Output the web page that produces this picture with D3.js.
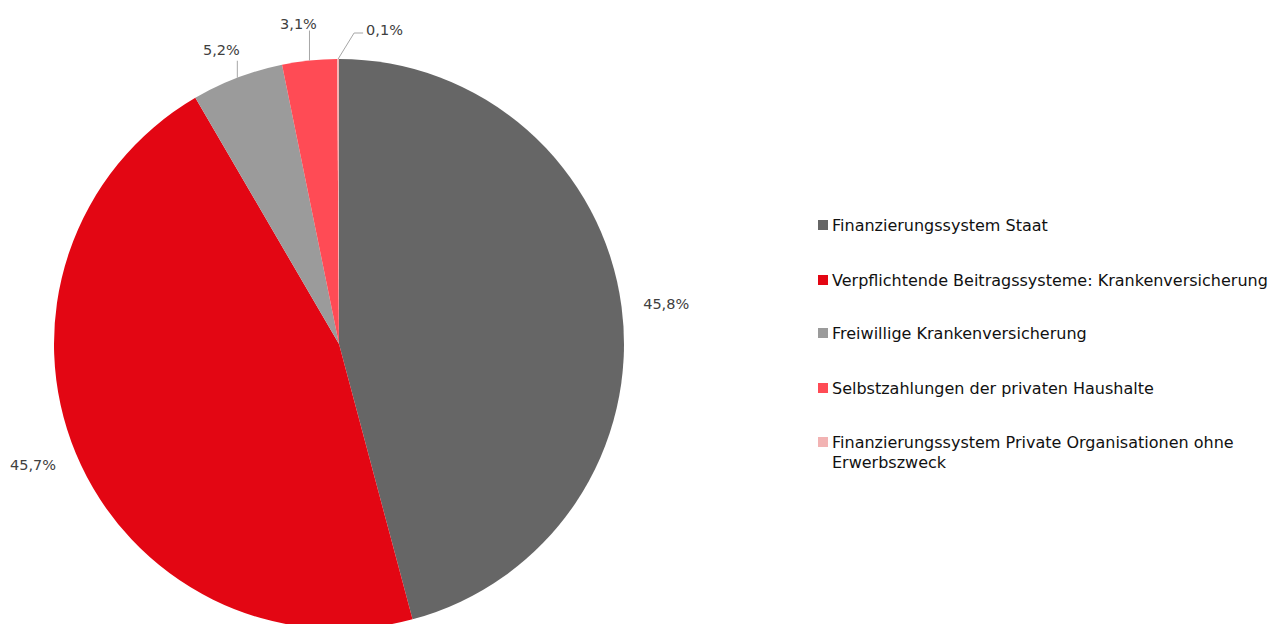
<!DOCTYPE html>
<html><head><meta charset="utf-8">
<script src="https://cdn.jsdelivr.net/npm/d3@7"></script>
<style>body{margin:0;background:#fff;}svg{display:block;}</style>
</head><body>
<svg id="c" width="1274" height="624"></svg>
<script>
const categories = ["Finanzierungssystem Staat","Verpflichtende Beitragssysteme: Krankenversicherung","Freiwillige Krankenversicherung","Selbstzahlungen der privaten Haushalte","Finanzierungssystem Private Organisationen ohne Erwerbszweck"];
const values = [45.8, 45.7, 5.2, 3.1, 0.1];
const labels = ["45,8%","45,7%","5,2%","3,1%","0,1%"];
const colors = ["#666666","#E30613","#9B9B9B","#FF4B55","#F2B3B3"];

const svg = d3.select("#c");
const cx = 339, cy = 344, R = 285;
const font = "DejaVu Sans";
const g = svg.append("g").attr("transform",`translate(${cx},${cy})`);
const pie = d3.pie().sort(null).value(d=>d)(values);
const arc = d3.arc().innerRadius(0).outerRadius(R);
g.selectAll("path").data(pie).join("path").attr("d",arc).attr("fill",(d,i)=>colors[i]);

const lblColor = "#404040";
const lblSize = 14.5;
const pt = (a, r) => [Math.sin(a)*r, -Math.cos(a)*r];
pie.forEach((d,i)=>{
  const m = (d.startAngle+d.endAngle)/2;
  if (i===0) {
    const [x,y] = pt(m, R+42);
    g.append("text").attr("x",x+3).attr("y",y+3).attr("text-anchor","middle").attr("dominant-baseline","central")
     .attr("font-family",font).attr("font-size",lblSize).attr("fill",lblColor).text(labels[i]);
  } else if (i===1) {
    const [x,y] = pt(m, R+40);
    g.append("text").attr("x",x-6).attr("y",y-4).attr("text-anchor","middle").attr("dominant-baseline","central")
     .attr("font-family",font).attr("font-size",lblSize).attr("fill",lblColor).text(labels[i]);
  }
});
function leader(i, pts, tx, ty, anchor){
  g.append("path").attr("d", d3.line()(pts)).attr("fill","none").attr("stroke","#A6A6A6").attr("stroke-width",1);
  g.append("text").attr("x",tx).attr("y",ty).attr("text-anchor",anchor).attr("dominant-baseline","central")
   .attr("font-family",font).attr("font-size",lblSize).attr("fill",lblColor).text(labels[i]);
}
{
  const d = pie[2]; const m=(d.startAngle+d.endAngle)/2; const [x,y]=pt(m,R);
  leader(2, [[x,y],[x,y-17]], x-16, y-28, "middle");
}
{
  const d = pie[3]; const m=(d.startAngle+d.endAngle)/2; const [x,y]=pt(m,R);
  leader(3, [[x,y],[x,y-30]], x-11, y-37, "middle");
}
{
  const d = pie[4]; const m=(d.startAngle+d.endAngle)/2; const [x,y]=pt(m,R);
  leader(4, [[x,y],[x+16,y-26],[x+25,y-26]], x+28, y-29, "start");
}

const leg = svg.append("g");
const rowsY = [225, 280, 333, 388, 442];
categories.forEach((c,i)=>{
  leg.append("rect").attr("x",818).attr("y",rowsY[i]-5).attr("width",10).attr("height",10).attr("fill",colors[i]);
  const t = leg.append("text").attr("x",832).attr("y",rowsY[i]).attr("dominant-baseline","central")
    .attr("font-family",font).attr("font-size",16).attr("fill","#111");
  if (i===4) {
    t.append("tspan").attr("x",832).text("Finanzierungssystem Private Organisationen ohne");
    t.append("tspan").attr("x",832).attr("dy",20).text("Erwerbszweck");
  } else t.text(c);
});
</script>
</body></html>
